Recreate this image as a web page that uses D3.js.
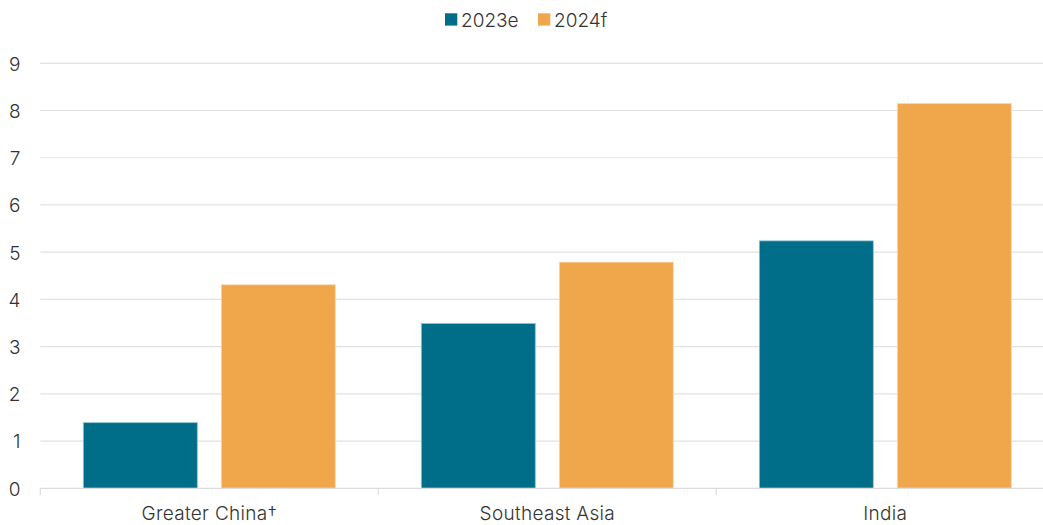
<!DOCTYPE html>
<html>
<head>
<meta charset="utf-8">
<script src="https://cdn.jsdelivr.net/npm/d3@7"></script>
<style>
  html, body { margin: 0; padding: 0; background: #fff; }
  svg { display: block; font-family: Inter, Roboto, sans-serif; }
</style>
</head>
<body>
<svg id="chart" width="1043" height="525"></svg>
<script>
// Regions and forecast values by year
const categories = ["Greater China†", "Southeast Asia", "India"];
const seriesNames = ["2023e", "2024f"];
const values2023e = [1.39, 3.49, 5.24];
const values2024f = [4.31, 4.79, 8.15];
const yTicks = [0, 1, 2, 3, 4, 5, 6, 7, 8, 9];
const colors = ["#006e89", "#f0a74c"];
const strokes = ["#8fc6d4", "#fbd9b0"];

const FONT = "Inter, Roboto, sans-serif";
const series = [values2023e, values2024f];
const svg = d3.select("#chart");

const x0 = d3.scaleBand().domain(categories).range([40.3, 1054.3]).paddingInner(0).paddingOuter(0);
const x1 = d3.scaleBand().domain(seriesNames).range([43, 338 - 43]).paddingInner(24 / 138).paddingOuter(0);
const y = d3.scaleLinear().domain([0, 9]).range([488.3, 63.3]);

// Gridlines
svg.append("g")
  .selectAll("line")
  .data(yTicks.filter(d => d > 0))
  .join("line")
  .attr("x1", 40.3).attr("x2", 1043)
  .attr("y1", d => y(d)).attr("y2", d => y(d))
  .attr("stroke", "#e2e2e2").attr("stroke-width", 1.2);

// Y axis labels
const yAxis = d3.axisLeft(y).tickValues(yTicks).tickSize(0).tickPadding(0);
svg.append("g")
  .attr("transform", "translate(20.5,0)")
  .call(yAxis)
  .call(g => g.select(".domain").remove())
  .call(g => g.selectAll("text")
    .attr("font-size", 19).attr("fill", "#333").attr("font-family", FONT)
    .attr("font-weight", 300).attr("dy", "0.36em"));

// Bars
const groups = svg.append("g")
  .selectAll("g")
  .data(categories)
  .join("g")
  .attr("transform", d => `translate(${x0(d)},0)`);

groups.selectAll("rect")
  .data((d, i) => seriesNames.map((s, j) => ({ s, j, v: series[j][i] })))
  .join("rect")
  .attr("x", d => x1(d.s))
  .attr("width", x1.bandwidth())
  .attr("y", d => y(d.v))
  .attr("height", d => y(0) - y(d.v))
  .attr("fill", d => colors[d.j])
  .attr("stroke", d => strokes[d.j])
  .attr("stroke-width", 0.8);

// X axis
const xAxis = d3.axisBottom(x0).tickSize(0).tickPadding(0);
const xg = svg.append("g").attr("transform", `translate(0,${y(0)})`).call(xAxis);
xg.select(".domain").remove();
xg.append("line").attr("x1", 40.3).attr("x2", 1043).attr("y1", 0).attr("y2", 0)
  .attr("stroke", "#dcdcdc").attr("stroke-width", 1.2);
xg.selectAll(".sep")
  .data(categories.map(c => x0(c)))
  .join("line")
  .attr("class", "sep")
  .attr("x1", d => d).attr("x2", d => d)
  .attr("y1", 0).attr("y2", 7)
  .attr("stroke", "#dcdcdc").attr("stroke-width", 1.2);
xg.selectAll(".tick text")
  .attr("y", 32.2)
  .attr("dy", 0)
  .attr("font-size", 19).attr("fill", "#333").attr("font-family", FONT)
  .attr("font-weight", 300)
  .attr("letter-spacing", 0.3);

// Legend
const legendItems = [{ name: seriesNames[0], x: 445 }, { name: seriesNames[1], x: 538 }];
const lg = svg.append("g").selectAll("g").data(legendItems).join("g")
  .attr("transform", d => `translate(${d.x},13.3)`);
lg.append("rect").attr("width", 12.3).attr("height", 12.3)
  .attr("fill", (d, i) => colors[i]);
lg.append("text").attr("x", 16).attr("y", 13.3)
  .attr("font-size", 19).attr("fill", "#333").attr("font-weight", 300)
  .attr("font-family", FONT)
  .text(d => d.name);
</script>
</body>
</html>
